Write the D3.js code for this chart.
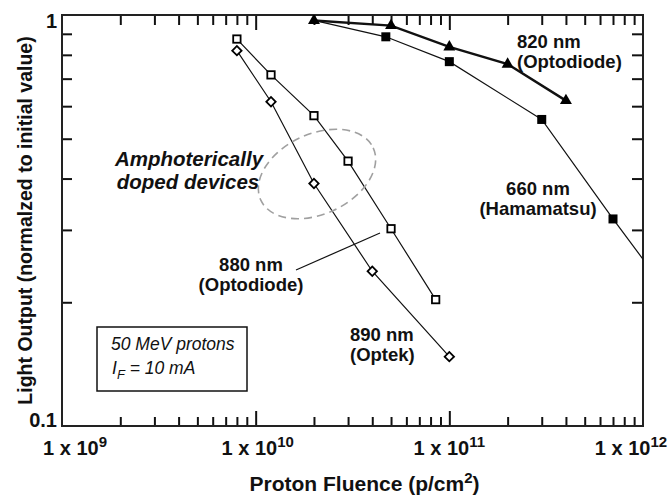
<!DOCTYPE html>
<html><head><meta charset="utf-8">
<script src="https://cdn.jsdelivr.net/npm/d3@7"></script>
<style>
body{margin:0;background:#fff;}
text{font-family:"Liberation Sans",Arial,sans-serif;}
</style></head>
<body><svg id="c" width="672" height="498"></svg>
<script>
// ---- data ----
const fluence820 = [2e10, 5e10, 1e11, 2e11, 4e11];
const light820   = [0.97, 0.942, 0.836, 0.759, 0.619];
const fluence660 = [2e10, 4.7e10, 1e11, 3e11, 7e11, 1.5e12];
const light660   = [0.97, 0.885, 0.770, 0.557, 0.319, 0.197];
const marker660  = [false, true, true, true, true, true];
const fluence880 = [8e9, 1.2e10, 2e10, 3e10, 5e10, 8.5e10];
const light880   = [0.874, 0.715, 0.569, 0.441, 0.302, 0.203];
const fluence890 = [8e9, 1.2e10, 2e10, 4e10, 1e11];
const light890   = [0.819, 0.615, 0.389, 0.238, 0.1475];
const xTickExponents = [9, 10, 11, 12];
const yTickLabels = ["1", "0.1"];

// ---- layout ----
const L = 62, T = 15, R = 643, B = 426;
const svg = d3.select("#c");
const x = d3.scaleLog().domain([1e9, 1e12]).range([L, R]);
const y = d3.scaleLog().domain([0.1, 1]).range([B, T]);

const minorX = [], majorX = [];
[1e9, 1e10, 1e11].forEach(d => { for (let k = 2; k <= 9; k++) minorX.push(d * k); if (d > 1e9) majorX.push(d); });
const minorY = []; for (let k = 2; k <= 9; k++) minorY.push(k / 10);

const tickStyle = g => { g.select(".domain").remove(); g.selectAll("line").attr("stroke", "#111").attr("stroke-width", 2); g.selectAll("text").remove(); };
svg.append("g").attr("transform", `translate(0,${B})`).call(d3.axisBottom(x).tickValues(minorX).tickSizeInner(-9).tickSizeOuter(0).tickFormat("")).call(tickStyle);
svg.append("g").attr("transform", `translate(0,${B})`).call(d3.axisBottom(x).tickValues(majorX).tickSizeInner(-15).tickSizeOuter(0).tickFormat("")).call(tickStyle);
svg.append("g").attr("transform", `translate(0,${T})`).call(d3.axisTop(x).tickValues(minorX).tickSizeInner(-10).tickSizeOuter(0).tickFormat("")).call(tickStyle);
svg.append("g").attr("transform", `translate(0,${T})`).call(d3.axisTop(x).tickValues(majorX).tickSizeInner(-15).tickSizeOuter(0).tickFormat("")).call(tickStyle);
svg.append("g").attr("transform", `translate(${L},0)`).call(d3.axisLeft(y).tickValues(minorY).tickSizeInner(-10).tickSizeOuter(0).tickFormat("")).call(tickStyle);
svg.append("g").attr("transform", `translate(${R},0)`).call(d3.axisRight(y).tickValues(minorY).tickSizeInner(-11).tickSizeOuter(0).tickFormat("")).call(tickStyle);

svg.append("rect").attr("x", L).attr("y", T).attr("width", R - L).attr("height", B - T)
  .attr("fill", "none").attr("stroke", "#222").attr("stroke-width", 2);

// x tick labels
const xLabShift = [13, 2, 0, -12];
xTickExponents.forEach((e, i) => {
  const t = svg.append("text").attr("x", x(Math.pow(10, e)) + xLabShift[i]).attr("y", 455)
    .attr("text-anchor", "middle").attr("font-size", 20).attr("font-weight", "bold").attr("fill", "#111");
  t.append("tspan").text("1 x 10");
  t.append("tspan").attr("dy", -8).attr("font-size", 15).text(e);
});
// y tick labels
[1, 0.1].forEach((v, i) => {
  svg.append("text").attr("x", 57).attr("y", y(v) + (i === 0 ? 13 : 1)).attr("text-anchor", "end")
    .attr("font-size", 20).attr("font-weight", "bold").attr("fill", "#111").text(yTickLabels[i]);
});

// axis titles
const xt = svg.append("text").attr("x", (L + R) / 2 + 12).attr("y", 491).attr("text-anchor", "middle")
  .attr("font-size", 21).attr("font-weight", "bold").attr("fill", "#111");
xt.append("tspan").text("Proton Fluence (p/cm");
xt.append("tspan").attr("dy", -8).attr("font-size", 15).text("2");
xt.append("tspan").attr("dy", 8).text(")");
svg.append("text").attr("transform", `translate(32,${(T + B) / 2}) rotate(-90)`).attr("text-anchor", "middle")
  .attr("font-size", 19.5).attr("font-weight", "bold").attr("fill", "#111").text("Light Output (normalzed to initial value)");

// clip
svg.append("clipPath").attr("id", "pc").append("rect").attr("x", L).attr("y", T).attr("width", R - L).attr("height", B - T);
const plot = svg.append("g").attr("clip-path", "url(#pc)");

const line = d3.line().x(d => x(d[0])).y(d => y(d[1]));
const zip = (a, b) => a.map((v, i) => [v, b[i]]);
const s820 = zip(fluence820, light820), s660 = zip(fluence660, light660),
      s880 = zip(fluence880, light880), s890 = zip(fluence890, light890);

// ellipse annotation
svg.append("ellipse").attr("cx", 317).attr("cy", 174).attr("rx", 62).attr("ry", 40)
  .attr("transform", "rotate(-25,317,174)").attr("fill", "none").attr("stroke", "#a0a0a0")
  .attr("stroke-width", 1.6).attr("stroke-dasharray", "8,5");

plot.append("path").attr("d", line(s660)).attr("fill", "none").attr("stroke", "#111").attr("stroke-width", 1.2);
plot.append("path").attr("d", line(s820)).attr("fill", "none").attr("stroke", "#111").attr("stroke-width", 2.4);
plot.append("path").attr("d", line(s880)).attr("fill", "none").attr("stroke", "#111").attr("stroke-width", 1.2);
plot.append("path").attr("d", line(s890)).attr("fill", "none").attr("stroke", "#111").attr("stroke-width", 1.2);

// markers
plot.selectAll(".m660").data(s660.filter((d, i) => marker660[i])).join("rect")
  .attr("x", d => x(d[0]) - 4.5).attr("y", d => y(d[1]) - 4.5).attr("width", 9).attr("height", 9).attr("fill", "#000");
plot.selectAll(".m820").data(s820).join("path")
  .attr("d", d3.symbol(d3.symbolTriangle, 62)).attr("transform", d => `translate(${x(d[0])},${y(d[1])})`).attr("fill", "#000");
plot.selectAll(".m880").data(s880).join("rect")
  .attr("x", d => x(d[0]) - 3.7).attr("y", d => y(d[1]) - 3.7).attr("width", 7.4).attr("height", 7.4)
  .attr("fill", "#fff").attr("stroke", "#000").attr("stroke-width", 1.8);
plot.selectAll(".m890").data(s890).join("path")
  .attr("d", d3.symbol(d3.symbolSquare, 44)).attr("transform", d => `translate(${x(d[0])},${y(d[1])}) rotate(45)`)
  .attr("fill", "#fff").attr("stroke", "#000").attr("stroke-width", 1.8);

// annotations
const ann = (tx, ty, anchor, lines, size) => {
  lines.forEach((s, i) => svg.append("text").attr("x", tx).attr("y", ty + i * 20).attr("text-anchor", anchor)
    .attr("font-size", size).attr("font-weight", "bold").attr("fill", "#111").text(s));
};
ann(517, 48, "start", ["820 nm", "(Optodiode)"], 18.5);
ann(538, 195, "middle", ["660 nm", "(Hamamatsu)"], 18.5);
ann(251, 271, "middle", ["880 nm", "(Optodiode)"], 18.5);
ann(350, 341, "start", ["890 nm", "(Optek)"], 18.5);
svg.append("text").attr("x", 189).attr("y", 166).attr("text-anchor", "middle").attr("font-size", 20.5).attr("font-weight", "bold").attr("font-style", "italic").attr("fill", "#111").text("Amphoterically");
svg.append("text").attr("x", 188).attr("y", 189).attr("text-anchor", "middle").attr("font-size", 20.5).attr("font-weight", "bold").attr("font-style", "italic").attr("fill", "#111").text("doped devices");
svg.append("line").attr("x1", 296).attr("y1", 270).attr("x2", 380).attr("y2", 233).attr("stroke", "#111").attr("stroke-width", 1.2);

// box
svg.append("rect").attr("x", 97).attr("y", 327).attr("width", 150).attr("height", 64).attr("fill", "#fff").attr("stroke", "#111").attr("stroke-width", 1.5);
svg.append("text").attr("x", 111).attr("y", 350).attr("font-size", 17.5).attr("font-style", "italic").attr("fill", "#111").text("50 MeV protons");
const it = svg.append("text").attr("x", 112).attr("y", 374).attr("font-size", 17.5).attr("font-style", "italic").attr("fill", "#111");
it.append("tspan").text("I");
it.append("tspan").attr("dy", 5).attr("font-size", 13).text("F");
it.append("tspan").attr("dy", -5).text(" = 10 mA");
</script></body></html>
